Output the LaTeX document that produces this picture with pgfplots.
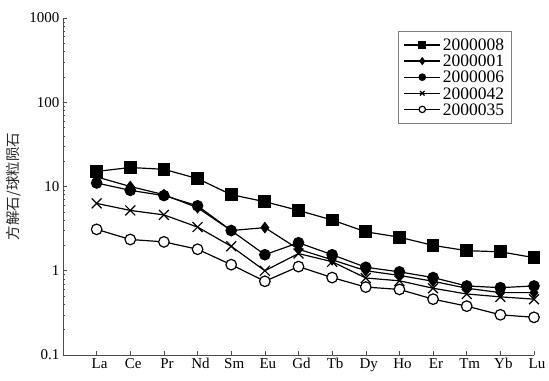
\documentclass[border=0pt]{standalone}
\usepackage{fontspec}
\setmainfont{Liberation Serif}
\newfontfamily\cjk{Noto Sans CJK SC}
\usepackage{pgfplots}
\pgfplotsset{compat=1.18}
\begin{document}
\begin{tikzpicture}
\begin{axis}[
  name=ax,
  scale only axis, width=471pt, height=337pt,
  ymode=log, ymin=0.1, ymax=1000,
  xmin=-1, xmax=13,
  axis x line=bottom, axis y line=left,
  axis line style={-, gray!60!black, line width=0.6pt},
  xtick={0,...,13},
  xticklabels={La,Ce,Pr,Nd,Sm,Eu,Gd,Tb,Dy,Ho,Er,Tm,Yb,Lu},
  tick align=inside, major tick length=4pt, minor tick length=2.5pt,
  tick style={gray!60!black, line width=0.5pt},
  log ticks with fixed point,
  /pgf/number format/1000 sep={},
  /pgf/number format/assume math mode=true,
  tick label style={font=\fontsize{15}{17}\selectfont},
  xticklabel style={xshift=3pt},
  ylabel={\cjk 方解石/球粒陨石},
  ylabel style={at={(axis description cs:-0.104,0.5)}, anchor=center, font=\fontsize{14.5}{16}\selectfont, gray!30!black},
  legend style={at={(0.711,0.961)}, anchor=north west, draw=gray, line width=0.6pt,
    font=\fontsize{17.5}{19}\selectfont,
    nodes={inner sep=2pt, text height=11.8pt, text depth=0.3pt},
    row sep=0pt, inner sep=5.5pt},
  legend cell align=left,
  legend image code/.code={\draw[mark repeat=2,mark phase=2] plot coordinates {(0pt,0pt) (18pt,0pt) (36pt,0pt)};},
  legend image post style={mark size=3.2pt},
  every axis plot/.append style={black, line width=1.2pt},
  clip=false,
]
\addplot[mark=square*, mark size=5.8pt] coordinates {
(0,15.1) (1,16.8) (2,16.0) (3,12.4) (4,8.0) (5,6.6) (6,5.2) (7,4.0) (8,2.9) (9,2.5) (10,2.0) (11,1.73) (12,1.68) (13,1.43)};
\addlegendentry{2000008}
\addplot[mark=diamond*, mark size=5pt] coordinates {
(0,13) (1,10) (2,8.0) (3,5.6) (4,3.0) (5,3.25) (6,1.8) (7,1.35) (8,1.0) (9,0.88) (10,0.75) (11,0.62) (12,0.55) (13,0.55)};
\addlegendentry{2000001}
\addplot[mark=*, mark size=5.2pt] coordinates {
(0,11) (1,9.0) (2,7.8) (3,5.9) (4,3.0) (5,1.55) (6,2.15) (7,1.55) (8,1.1) (9,0.97) (10,0.83) (11,0.66) (12,0.63) (13,0.66)};
\addlegendentry{2000006}
\addplot[mark=x, mark size=7pt] coordinates {
(0,6.3) (1,5.2) (2,4.6) (3,3.3) (4,1.95) (5,1.0) (6,1.6) (7,1.28) (8,0.82) (9,0.76) (10,0.62) (11,0.53) (12,0.49) (13,0.46)};
\addlegendentry{2000042}
\addplot[mark=*, mark size=5.3pt, mark options={fill=white}] coordinates {
(0,3.1) (1,2.35) (2,2.2) (3,1.8) (4,1.18) (5,0.75) (6,1.12) (7,0.83) (8,0.64) (9,0.6) (10,0.46) (11,0.38) (12,0.30) (13,0.28)};
\addlegendentry{2000035}
\end{axis}
\pgfresetboundingbox
\path ([shift={(-63pt,-26pt)}]ax.south west) rectangle ([shift={(15pt,18pt)}]ax.north east);
\end{tikzpicture}
\end{document}
